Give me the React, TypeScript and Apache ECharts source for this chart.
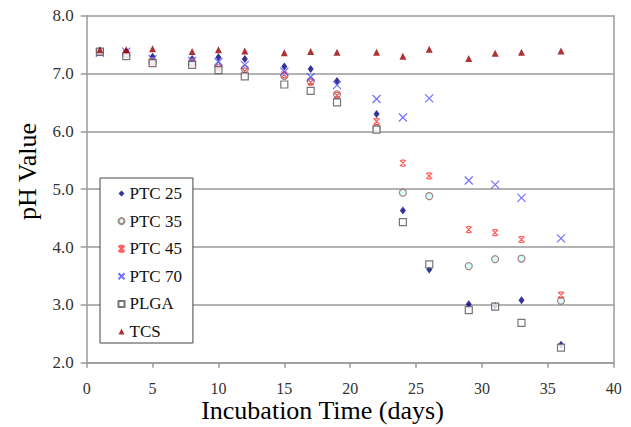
import React, { useEffect, useRef } from "react";
import * as echarts from "echarts";

const days = [1, 3, 5, 8, 10, 12, 15, 17, 19, 22, 24, 26, 29, 31, 33, 36];
const ptc25 = [7.38, 7.38, 7.29, 7.25, 7.28, 7.25, 7.12, 7.08, 6.87, 6.3, 4.63, 3.61, 3.01, 2.98, 3.08, 2.31];
const ptc35 = [7.38, 7.33, 7.22, 7.2, 7.13, 7.08, 6.96, 6.87, 6.64, 6.06, 4.94, 4.88, 3.67, 3.79, 3.8, 3.07];
const ptc45 = [7.37, 7.35, 7.2, 7.18, 7.1, 7.04, 6.98, 6.85, 6.62, 6.17, 5.45, 5.23, 4.3, 4.25, 4.13, 3.17];
const ptc70 = [7.36, 7.38, 7.25, 7.22, 7.2, 7.15, 7.03, 6.94, 6.8, 6.56, 6.24, 6.57, 5.15, 5.08, 4.85, 4.15];
const plga = [7.38, 7.3, 7.18, 7.15, 7.06, 6.95, 6.81, 6.7, 6.5, 6.03, 4.43, 3.7, 2.91, 2.97, 2.69, 2.26];
const tcs = [7.41, 7.41, 7.43, 7.38, 7.41, 7.39, 7.36, 7.38, 7.37, 7.37, 7.3, 7.42, 7.26, 7.35, 7.37, 7.39];

const xTitle = "Incubation Time (days)";
const yTitle = "pH Value";

const FAMILY = "Liberation Serif";

const pair = (ys: number[]) => days.map((d, i) => [d, ys[i]]);

export default function App() {
  const ref = useRef<HTMLDivElement>(null);
  useEffect(() => {
    if (!ref.current) return;
    const chart = echarts.init(ref.current, null, { renderer: "svg" });
    const grey = "#9a9a9a";
    const option: any = {
      animation: false,
      backgroundColor: "#fff",
      textStyle: { fontFamily: FAMILY },
      grid: { left: 86.7, right: 17.3, top: 15.7, bottom: 64.3 },
      legend: {
        orient: "vertical",
        left: 100,
        top: 178,
        itemWidth: 6,
        itemHeight: 6,
        itemGap: 10.6,
        padding: [7, 11, 3, 16],
        borderColor: "#444",
        borderWidth: 1,
        backgroundColor: "#fff",
        selectedMode: false,
        textStyle: { fontFamily: FAMILY, fontSize: 17, color: "#111" },
        data: ["PTC 25", "PTC 35", "PTC 45", "PTC 70", "PLGA", "TCS"],
      },
      xAxis: {
        type: "value",
        min: 0,
        max: 40,
        interval: 5,
        axisLine: { show: true, onZero: false, lineStyle: { color: grey, width: 1.5 } },
        axisTick: { show: true, length: 5, lineStyle: { color: grey, width: 1.5 } },
        axisLabel: { margin: 18, fontFamily: FAMILY, fontSize: 16, color: "#333" },
        splitLine: { show: false },
      },
      yAxis: [
        {
          type: "value",
          min: 2,
          max: 8,
          interval: 1,
          axisLine: { show: true, lineStyle: { color: grey, width: 1.5 } },
          axisTick: { show: true, length: 6, lineStyle: { color: grey, width: 1.5 } },
          axisLabel: {
            margin: 13,
            fontFamily: FAMILY,
            fontSize: 17,
            color: "#333",
            formatter: (v: number) => v.toFixed(1),
          },
          splitLine: { show: true, lineStyle: { color: grey, width: 1.5 } },
        },
        {
          type: "value",
          position: "right",
          min: 2,
          max: 8,
          interval: 1,
          axisLine: { show: true, lineStyle: { color: grey, width: 1.5 } },
          axisTick: { show: false },
          axisLabel: { show: false },
          splitLine: { show: false },
        },
      ],
      graphic: [
        {
          type: "text",
          x: 322.5,
          y: 410,
          style: {
            text: xTitle,
            font: `26px ${FAMILY}`,
            fill: "#000",
            align: "center",
            verticalAlign: "middle",
          },
        },
        {
          type: "text",
          x: 27,
          y: 171.5,
          rotation: Math.PI / 2,
          style: {
            text: yTitle,
            font: `26px ${FAMILY}`,
            fill: "#000",
            align: "center",
            verticalAlign: "middle",
          },
        },
      ],
      series: [
        {
          name: "PTC 25",
          type: "scatter",
          data: pair(ptc25),
          symbol: "diamond",
          symbolSize: [6, 8],
          itemStyle: { color: "#000080" },
        },
        {
          name: "PTC 35",
          type: "scatter",
          data: pair(ptc35),
          symbol: "circle",
          symbolSize: 7,
          itemStyle: { color: "#ccffff", borderColor: "#996666", borderWidth: 1.2 },
        },
        {
          name: "PTC 45",
          type: "scatter",
          data: pair(ptc45),
          symbol: "path://M0,0L10,10M10,0L0,10M2,0L8,0M2,10L8,10",
          symbolSize: 6,
          itemStyle: { color: "none", borderColor: "#ff3333", borderWidth: 1.2 },
        },
        {
          name: "PTC 70",
          type: "scatter",
          data: pair(ptc70),
          symbol: "path://M0,0L10,10M10,0L0,10",
          symbolSize: 8,
          itemStyle: { color: "none", borderColor: "#4d4dff", borderWidth: 1.2 },
        },
        {
          name: "PLGA",
          type: "scatter",
          data: pair(plga),
          symbol: "rect",
          symbolSize: 7,
          itemStyle: { color: "#ffffff", borderColor: "#555555", borderWidth: 1.2 },
        },
        {
          name: "TCS",
          type: "scatter",
          data: pair(tcs),
          symbol: "triangle",
          symbolSize: 7,
          itemStyle: { color: "#990000" },
        },
      ],
    };
    chart.setOption(option);
    return () => chart.dispose();
  }, []);
  return (
    <div
      ref={ref}
      style={{ position: "fixed", left: 0, top: 0, width: 631, height: 427 }}
    />
  );
}
